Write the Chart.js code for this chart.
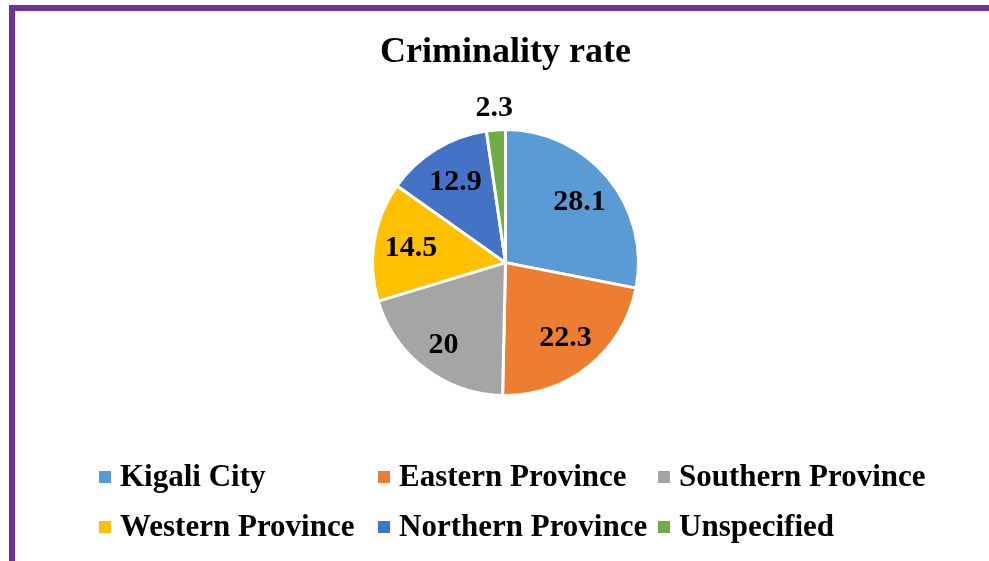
<!DOCTYPE html>
<html>
<head>
<meta charset="utf-8">
<script src="https://cdn.jsdelivr.net/npm/chart.js@4.4.1/dist/chart.umd.min.js"></script>
<style>
    body { margin: 0; background: #fff; }
    #wrap { position: relative; width: 989px; height: 561px; overflow: hidden; }
    #frame { position: absolute; left: 9px; top: 5px; width: 1200px; height: 800px; border-top: 6px solid #7030A0; border-left: 6px solid #7030A0; }
    #myChart { position: absolute; left: 0; top: 0; }
</style>
</head>
<body>
<div id="wrap">
    <div id="frame"></div>
    <canvas id="myChart" width="989" height="561"></canvas>
</div>
<script>
var regions = ["Kigali City", "Eastern Province", "Southern Province", "Western Province", "Northern Province", "Unspecified"];
var rates = [28.1, 22.3, 20, 14.5, 12.9, 2.3];
var sliceColors = ["#5B9BD5", "#ED7D31", "#A5A5A5", "#FFC000", "#4472C4", "#70AD47"];

// how far out each value label sits (fraction of radius)
var labelDist = [0.72, 0.72, 0.77, 0.72, 0.72, 1.17];

var serif = "'Liberation Serif', 'DejaVu Serif', serif";

//Draws the numbers on the slices
var valueLabels = {
    id: "valueLabels",
    afterDatasetsDraw: function(chart) {
        var ctx = chart.ctx;
        var arcs = chart.getDatasetMeta(0).data;
        ctx.save();
        ctx.font = "bold 30px " + serif;
        ctx.fillStyle = "#000";
        ctx.textAlign = "center";
        ctx.textBaseline = "middle";
        for (var i = 0; i < arcs.length; i++) {
            var p = arcs[i].getProps(["x", "y", "startAngle", "endAngle", "outerRadius"], true);
            var mid = (p.startAngle + p.endAngle) / 2;
            var d = p.outerRadius * labelDist[i];
            ctx.fillText(String(chart.data.datasets[0].data[i]), p.x + Math.cos(mid) * d, p.y + Math.sin(mid) * d + 1);
        }
        ctx.restore();
    }
};

//Legend in fixed columns like the original
var gridLegend = {
    id: "gridLegend",
    afterDraw: function(chart) {
        var ctx = chart.ctx;
        var colX = [99, 378, 658];
        var rowY = [477, 527];
        ctx.save();
        ctx.font = "bold 31px " + serif;
        ctx.textBaseline = "middle";
        ctx.textAlign = "left";
        for (var i = 0; i < chart.data.labels.length; i++) {
            var x = colX[i % 3];
            var y = rowY[Math.floor(i / 3)];
            ctx.fillStyle = chart.data.datasets[0].backgroundColor[i];
            ctx.fillRect(x, y - 6, 12, 12);
            ctx.fillStyle = "#000";
            ctx.fillText(chart.data.labels[i], x + 21, y + 1);
        }
        ctx.restore();
    }
};

var ctx = document.getElementById("myChart");
var myChart = new Chart(ctx, {
    type: "pie",
    data: {
        labels: regions,
        datasets: [{
            data: rates,
            backgroundColor: sliceColors,
            borderColor: "#fff",
            borderWidth: 3,
            radius: 133
        }]
    },
    options: {
        responsive: false,
        animation: false,
        layout: { padding: { left: 22, right: 0, top: 0, bottom: 114 } },
        plugins: {
            legend: { display: false },
            tooltip: { enabled: false },
            title: {
                display: true,
                text: "Criminality rate",
                color: "#000",
                font: { family: serif, size: 36, weight: "bold", lineHeight: 1.2 },
                padding: { top: 31, bottom: 4 }
            }
        }
    },
    plugins: [valueLabels, gridLegend]
});
</script>
</body>
</html>
